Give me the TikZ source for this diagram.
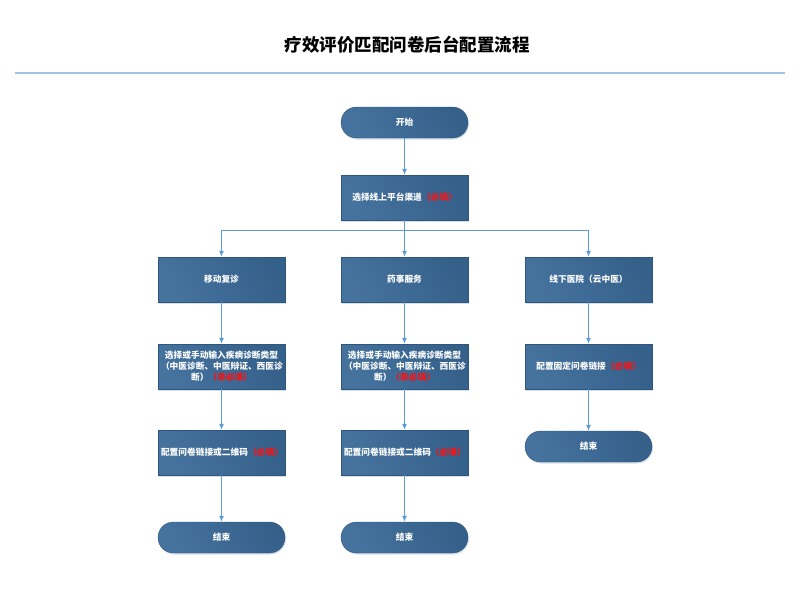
\documentclass[tikz,border=0pt]{standalone}
\usepackage{fontspec}
\setmainfont{Noto Sans CJK SC}
\usetikzlibrary{arrows.meta,shadows}
\definecolor{flowBoxLight}{HTML}{46739E}
\definecolor{flowBoxDark}{HTML}{34608A}
\definecolor{flowBoxEdge}{HTML}{2E5780}
\definecolor{flowArrow}{HTML}{5B9BD5}
\definecolor{flowRule}{HTML}{9DC3E6}
\definecolor{flowMust}{HTML}{FF1010}
\begin{document}
\begin{tikzpicture}[x=1pt, y=-1pt,
  flowbase/.style={draw=flowBoxEdge, line width=0.4pt, left color=flowBoxLight, right color=flowBoxDark, shading angle=120,
    text=white, font=\fontsize{8.7}{11}\selectfont\bfseries, align=center, inner sep=2pt,
    minimum width=127pt, text width=121pt,
    drop shadow={shadow xshift=1pt, shadow yshift=-1.5pt, opacity=0.2, fill=flowBoxDark}},
  flowbox/.style={flowbase, minimum height=45pt},
  flowpill/.style={flowbase, minimum height=31pt, rounded corners=15.5pt},
  flowarr/.style={draw=flowArrow, line width=1pt, -{Latex[length=6pt,width=5pt]}}]
\def\must{\textcolor{flowMust}{（必填）}}
\useasboundingbox (0,0) rectangle (800,610);
% Title and rule
\node (title) at (407,45) {\fontsize{17.5}{20}\selectfont\bfseries 疗效评价匹配问卷后台配置流程};
\draw[flowRule, line width=1.5pt] (15,73) -- (785,73);
% Trunk
\node[flowpill] (start) at (404.5,122.5) {开始};
\node[flowbox] (channel) at (404.5,197.5) {选择线上平台渠道\must};
\coordinate (split) at (404.5,230);
% Three channels
\node[flowbox] (mobile) at (221.5,279.5) {移动复诊};
\node[flowbox] (pharm) at (404.5,279.5) {药事服务};
\node[flowbox] (offline) at (588.5,279.5) {线下医院（云中医）};
% Diagnosis
\node[flowbox] (diagA) at (221.5,366.5) {选择或手动输入疾病诊断类型\\（中医诊断、中医辩证、西医诊\\断）\textcolor{flowMust}{（非必填）}};
\node[flowbox] (diagB) at (404.5,366.5) {选择或手动输入疾病诊断类型\\（中医诊断、中医辩证、西医诊\\断）\textcolor{flowMust}{（非必填）}};
\node[flowbox] (fixed) at (588.5,366.5) {配置固定问卷链接\must};
% Links
\node[flowbox] (linkA) at (221.5,452.5) {配置问卷链接或二维码\must};
\node[flowbox] (linkB) at (404.5,452.5) {配置问卷链接或二维码\must};
\node[flowpill] (endC) at (588.5,446.5) {结束};
% Ends
\node[flowpill] (endA) at (221.5,537.5) {结束};
\node[flowpill] (endB) at (404.5,537.5) {结束};
% Connectors
\draw[flowarr] (start) -- (channel);
\draw[flowarr] (channel) -- (pharm);
\draw[flowarr] (split) -| (mobile);
\draw[flowarr] (split) -| (offline);
\draw[flowarr] (mobile) -- (diagA);
\draw[flowarr] (pharm) -- (diagB);
\draw[flowarr] (offline) -- (fixed);
\draw[flowarr] (diagA) -- (linkA);
\draw[flowarr] (diagB) -- (linkB);
\draw[flowarr] (fixed) -- (endC);
\draw[flowarr] (linkA) -- (endA);
\draw[flowarr] (linkB) -- (endB);
\end{tikzpicture}
\end{document}
